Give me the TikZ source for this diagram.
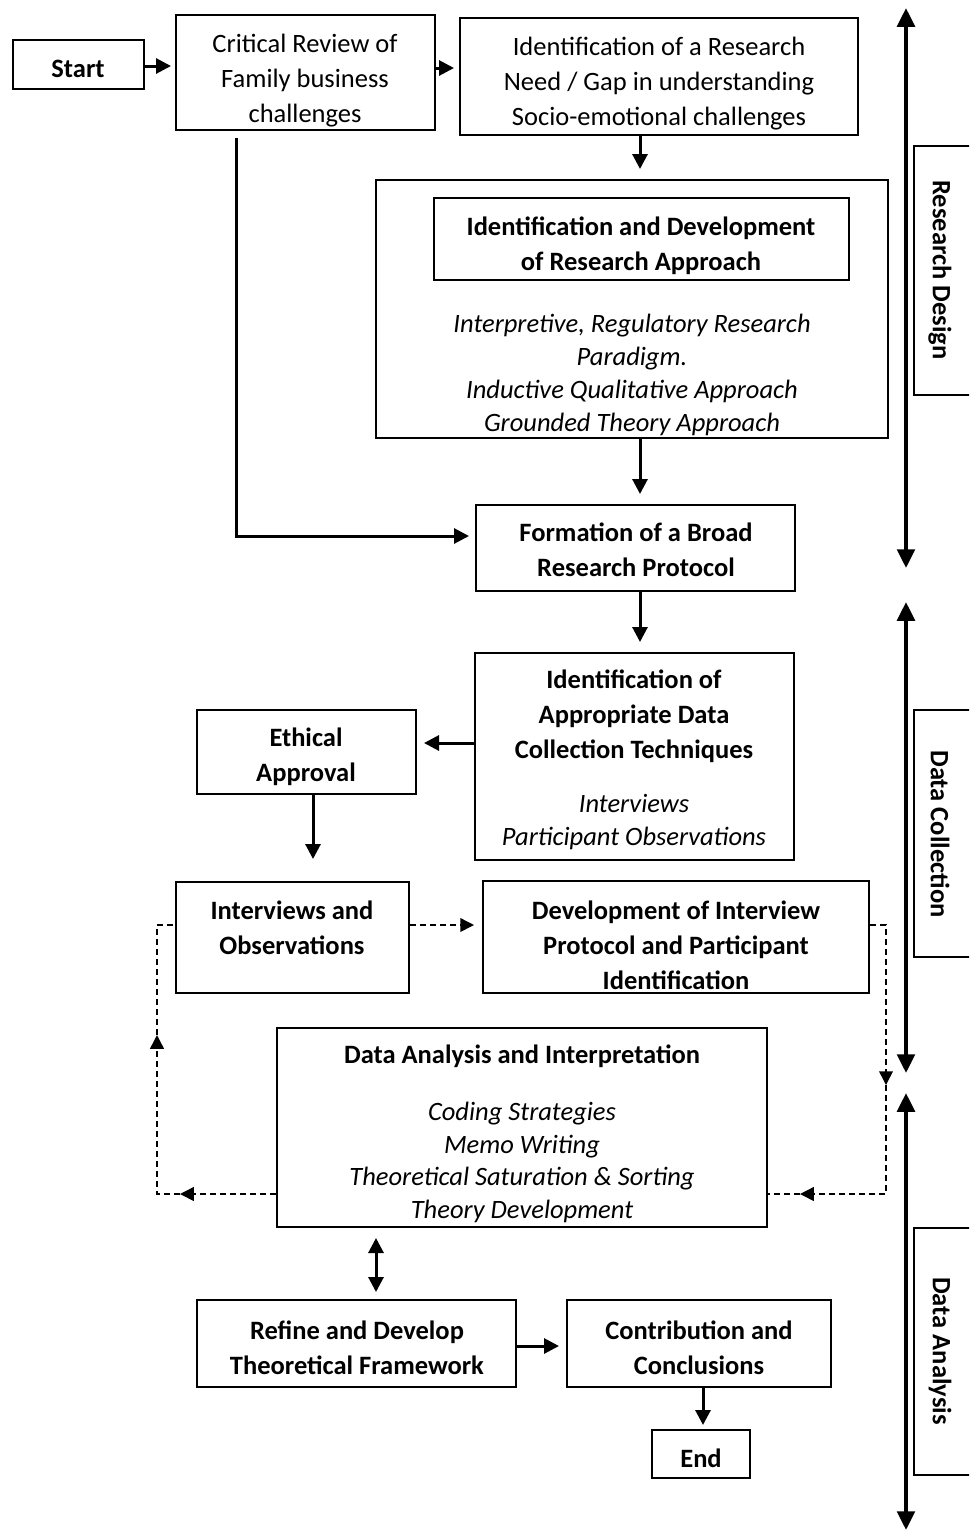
\documentclass[tikz,border=0pt]{standalone}
\usepackage{fontspec}
\setmainfont{Carlito}
\usetikzlibrary{arrows.meta,fit}
\begin{document}
\begin{tikzpicture}[x=0.4pt,y=-0.4pt,
  box/.style={draw, line width=0.8pt, inner sep=0pt},
  lab/.style={draw, line width=0.5pt, inner sep=0pt},
  txt/.style={align=center, inner sep=0pt, font=\fontsize{10.6}{14}\selectfont},
  arr/.style={line width=1.2pt, -{Triangle[length=6pt,width=6pt]}},
  darr/.style={line width=1.2pt, {Triangle[length=6pt,width=6pt]}-{Triangle[length=6pt,width=6pt]}},
  bigarr/.style={line width=1.6pt, {Triangle[length=7.5pt,width=7pt]}-{Triangle[length=7.5pt,width=7pt]}},
  dsh/.style={line width=0.6pt, dash pattern=on 2.4pt off 1.6pt},
  dsharr/.style={dsh, -{Triangle[length=5.5pt,width=5.5pt]}},
]
\useasboundingbox (0,0) rectangle (969,1535);
\clip (0,0) rectangle (969,1535);

% boxes
\node[box, fit={(13,40)(144,89)}] (start) {};
\node[box, fit={(176,15)(435,130)}] (crit) {};
\node[box, fit={(460,18)(858,135)}] (need) {};
\node[box, fit={(376,180)(888,438)}] (big) {};
\node[box, fit={(434,198)(849,280)}] (inner) {};
\node[box, fit={(476,505)(795,591)}] (form) {};
\node[box, fit={(475,653)(794,860)}] (approp) {};
\node[box, fit={(197,710)(416,794)}] (ethical) {};
\node[box, fit={(176,882)(409,993)}] (interv) {};
\node[box, fit={(483,881)(869,993)}] (dev) {};
\node[box, fit={(277,1028)(767,1227)}] (dana) {};
\node[box, fit={(197,1300)(516,1387)}] (refine) {};
\node[box, fit={(567,1300)(831,1387)}] (contrib) {};
\node[box, fit={(652,1430)(750,1478)}] (endb) {};
\node[lab, fit={(914,146)(985,395)}] (lab1) {};
\node[lab, fit={(914,710)(985,957)}] (lab2) {};
\node[lab, fit={(914,1228)(985,1475)}] (lab3) {};

% texts
\node[txt] (start-t) at (78,69) {\textbf{Start}};
\node[txt] (crit-t) at (305,81) {Critical Review of\\Family business\\challenges};
\node[txt] (need-t) at (659,84) {Identification of a Research\\Need / Gap in understanding\\Socio-emotional challenges};
\node[txt] (inner-t) at (641,246) {\textbf{Identification and Development}\\\textbf{of Research Approach}};
\node[txt] (big-t) at (632,375) {\textit{Interpretive, Regulatory Research}\\[-0.8pt]\textit{Paradigm.}\\[-0.8pt]\textit{Inductive Qualitative Approach}\\[-0.8pt]\textit{Grounded Theory Approach}};
\node[txt] (form-t) at (636,550) {\textbf{Formation of a Broad}\\\textbf{Research Protocol}};
\node[txt] (approp-t) at (634,760) {\textbf{Identification of}\\\textbf{Appropriate Data}\\\textbf{Collection Techniques}\\[7.8pt]\textit{Interviews}\\[-0.8pt]\textit{Participant Observations}};
\node[txt] (ethical-t) at (306,757) {\textbf{Ethical}\\\textbf{Approval}};
\node[txt] (interv-t) at (292,928) {\textbf{Interviews and}\\\textbf{Observations}};
\node[txt] (dev-t) at (676,945) {\textbf{Development of Interview}\\\textbf{Protocol and Participant}\\\textbf{Identification}};
\node[txt] (dana-t) at (522,1134) {\textbf{Data Analysis and Interpretation}\\[8.8pt]\textit{Coding Strategies}\\[-1pt]\textit{Memo Writing}\\[-1pt]\textit{Theoretical Saturation \& Sorting}\\[-1pt]\textit{Theory Development}};
\node[txt] (refine-t) at (357,1348) {\textbf{Refine and Develop}\\\textbf{Theoretical Framework}};
\node[txt] (contrib-t) at (699,1348) {\textbf{Contribution and}\\\textbf{Conclusions}};
\node[txt] (endb-t) at (701,1458) {\textbf{End}};
\node[txt, rotate=-90] (lab1-t) at (940,270) {\textbf{Research Design}};
\node[txt, rotate=-90] (lab2-t) at (940,834) {\textbf{Data Collection}};
\node[txt, rotate=-90] (lab3-t) at (940,1351) {\textbf{Data Analysis}};

% connectors
\coordinate (ax) at (640,0);
\draw[arr, shorten >=1.6pt] (start.east |- 0,66) -- (crit.west |- 0,66);
\draw[arr, shorten >=2pt] (crit.east |- 0,68) -- (need.west |- 0,68);
\draw[arr, shorten >=4pt] (need.south -| ax) -- (big.north -| ax);
\draw[arr, shorten >=4pt] (big.south -| ax) -- (form.north -| ax);
\draw[arr, shorten <=2.8pt, shorten >=2.4pt] (crit.south -| 236,0) |- (form.west |- 0,536);
\draw[arr, shorten >=4pt] (form.south -| ax) -- (approp.north -| ax);
\draw[arr, shorten >=2.8pt] (approp.west |- 0,743) -- (ethical.east |- 0,743);
\draw[arr, shorten >=8.8pt] (ethical.south -| 313,0) -- (interv.north -| 313,0);
\draw[dsharr, shorten >=3.2pt] (interv.east |- 0,925) -- (dev.west |- 0,925);

\coordinate (r1) at (886,925);
\coordinate (r2) at (886,1085);
\coordinate (r3) at (886,1194);
\coordinate (r4) at (800,1194);
\draw[dsharr] (dev.east |- r1) -- (r1) -- (r2);
\draw[dsharr] (r2) -- (r3) -- (r4);
\draw[dsh] (r4) -- (dana.east |- r4);

\coordinate (l1) at (180,1194);
\coordinate (l2) at (157,1194);
\coordinate (l3) at (157,1035);
\coordinate (l4) at (157,925);
\draw[dsharr] (dana.west |- l1) -- (l1);
\draw[dsharr] (l1) -- (l2) -- (l3);
\draw[dsh] (l3) -- (l4) -- (interv.west |- l4);

\draw[darr, shorten <=4pt, shorten >=2.8pt] (dana.south -| 376,0) -- (refine.north -| 376,0);
\draw[arr, shorten >=2.8pt] (refine.east |- 0,1346) -- (contrib.west |- 0,1346);
\draw[arr, shorten >=1.6pt] (contrib.south -| 703,0) -- (endb.north -| 703,0);

\coordinate (a1) at (906,8);
\coordinate (a2) at (906,568);
\coordinate (a3) at (906,602);
\coordinate (a4) at (906,1073);
\coordinate (a5) at (906,1093);
\coordinate (a6) at (906,1530);
\draw[bigarr] (a1) -- (a2);
\draw[bigarr] (a3) -- (a4);
\draw[bigarr] (a5) -- (a6);
\end{tikzpicture}
\end{document}
